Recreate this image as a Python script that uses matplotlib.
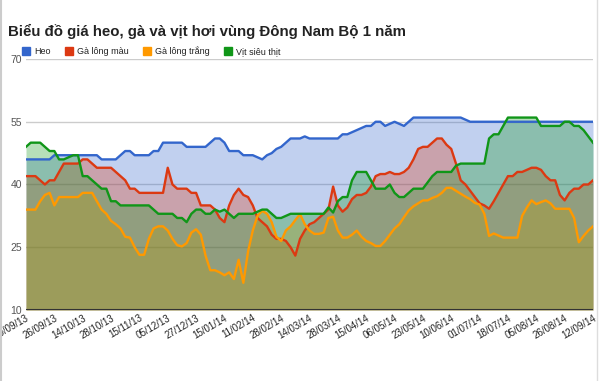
import numpy as np
import matplotlib
matplotlib.use("Agg")
import matplotlib.pyplot as plt
from matplotlib.patches import Patch
from matplotlib.lines import Line2D

plt.rcParams["font.family"] = ["Liberation Sans", "DejaVu Sans"]

# giá heo hơi (nghìn đồng/kg)
heo = [46, 46, 46, 46, 46, 46, 47, 47, 47, 47, 47, 47, 47, 47, 47, 47, 46, 46, 46, 46,
       47, 48, 48, 47, 47, 47, 47, 48, 48, 50, 50, 50, 50, 50, 49, 49, 49, 49, 49, 50,
       51, 51, 50, 48, 48, 48, 47, 47, 47, 46.5, 46, 47, 47.5, 48.5, 49, 50, 51, 51, 51, 51.5,
       51, 51, 51, 51, 51, 51, 51, 52, 52, 52.5, 53, 53.5, 54, 54, 55, 55, 54, 54.5, 55, 54.5,
       54, 55, 56, 56, 56, 56, 56, 56, 56, 56, 56, 56, 56, 55.5, 55, 55, 55, 55, 55, 55,
       55, 55, 55, 55, 55, 55, 55, 55, 55, 55, 55, 55, 55, 55, 55, 55, 55, 55, 55, 55, 55]

ga_mau = [42, 42, 42, 41, 40, 41, 41, 43, 45, 45, 45, 45, 46, 46, 45, 44, 44, 44, 44, 43,
          42, 41, 39, 39, 38, 38, 38, 38, 38, 38, 44, 40, 39, 39, 39, 38, 38, 35, 35, 35,
          34, 32, 31, 35, 37.5, 39, 37.5, 37, 35, 32, 31, 30, 28, 27, 27, 26.5, 25, 23, 27, 29,
          30.5, 31, 32, 33, 34, 39.5, 35, 33.5, 34.5, 36.5, 37.5, 37.5, 38, 39.5, 42, 42.5, 42.5, 43, 42.5, 42.5,
          43, 44, 46, 48.5, 49, 49, 50, 51, 51, 49.5, 48.5, 45, 41, 40, 38.5, 37, 35.5, 35, 34.2, 36,
          38, 40, 42, 42, 43, 43, 43.5, 44, 44, 43.5, 42, 41, 41, 37.5, 36.2, 38, 39, 39, 40, 40, 41]

ga_trang = [34, 34, 34, 36, 37.5, 38, 35, 37, 37, 37, 37, 37, 38, 38, 38, 36, 34, 33, 31.3, 30.5,
            29.5, 27.5, 27.3, 25, 23.2, 23.2, 27, 29.5, 30, 30, 29, 27, 25.5, 25.2, 26, 28.5, 29.3, 28, 23, 19.5,
            19.5, 19, 18.3, 19, 17.4, 22, 16.5, 24, 29, 32.5, 33.7, 33, 31, 27.5, 26.5, 29, 30, 31.5, 32.9, 30.5,
            29, 28.2, 28.2, 28.5, 32, 32.3, 29, 27.3, 27.3, 28, 29, 27.5, 26.5, 26, 25.3, 25.3, 26.5, 28, 29.5, 30.5,
            32.2, 33.8, 34.8, 35.5, 36.2, 36.2, 36.8, 37.2, 38, 39.2, 39.2, 38.5, 37.8, 37.1, 36.5, 35.6, 35.2, 33, 27.7, 28.3,
            27.8, 27.3, 27.3, 27.3, 27.3, 32.5, 34.5, 36.2, 35.3, 35.8, 36.2, 35.5, 34.2, 34.2, 34.2, 34.2, 32, 26.2, 27.7, 29, 30]

vit = [49, 50, 50, 50, 49, 48, 48, 46, 46, 46.5, 47, 47, 42, 42, 41, 40, 39, 39, 36, 36,
       35, 35, 35, 35, 35, 35, 35, 34, 33, 33, 33, 33, 32, 32, 31, 33, 34, 34, 33, 33,
       34, 33.5, 34, 33, 32, 33, 33, 33, 33, 33.5, 34, 34, 33, 32, 32, 32.5, 33, 33, 33, 33,
       33, 33, 33, 33, 34.5, 33.3, 36, 37, 37, 41, 43, 43, 43, 41, 39, 39, 39, 40, 38, 37,
       37, 38, 39, 39, 39, 40.5, 42, 43, 43, 43, 43, 44.5, 45, 45, 45, 45, 45, 45, 51, 52,
       52, 54, 56, 56, 56, 56, 56, 56, 56, 54, 54, 54, 54, 54, 55, 55, 54, 54, 53, 51.5, 50]

tick_labels = ["09/09/13", "26/09/13", "14/10/13", "28/10/13", "15/11/13", "05/12/13",
               "27/12/13", "15/01/14", "11/02/14", "28/02/14", "14/03/14", "28/03/14",
               "15/04/14", "06/05/14", "23/05/14", "10/06/14", "01/07/14", "18/07/14",
               "05/08/14", "26/08/14", "12/09/14"]

series = [("Heo", heo, "#3366CC"),
          ("Gà lông màu", ga_mau, "#DC3912"),
          ("Gà lông trắng", ga_trang, "#FF9900"),
          ("Vịt siêu thịt", vit, "#109618")]

x = np.arange(len(heo))

fig = plt.figure(figsize=(6.0, 3.81), dpi=100)
ax = fig.add_axes([26 / 600, 1 - 310 / 381, 567 / 600, 251 / 381])

for name, vals, col in series:
    ax.fill_between(x, 10, vals, color=col, alpha=0.3, linewidth=0)
for name, vals, col in series:
    ax.plot(x, vals, color=col, lw=1.7, solid_joinstyle="round")

ax.set_xlim(0, len(heo) - 1)
ax.set_ylim(10, 70)
ax.set_yticks([10, 25, 40, 55, 70])
for yv in [25, 40, 55, 70]:
    ax.axhline(yv, color="#cccccc", lw=1, zorder=0.5)
ax.axhline(10, color="#333333", lw=1.5, zorder=5)
for s in ax.spines.values():
    s.set_visible(False)
ax.tick_params(axis="y", length=0, labelsize=7.5, labelcolor="#555555", pad=3)
ax.tick_params(axis="x", length=0, labelsize=7, labelcolor="#222222", pad=2)
ax.set_xticks(np.arange(0, len(heo), 6))
ax.set_xticklabels(tick_labels, rotation=30, ha="right", rotation_mode="anchor")

fig.text(8 / 600, 1 - 31 / 381, "Biểu đồ giá heo, gà và vịt hơi vùng Đông Nam Bộ 1 năm",
         fontsize=10.8, fontweight="bold", color="#222222", va="center")

handles = [Patch(facecolor=c, edgecolor=c, label=n) for n, v, c in series]
fig.legend(handles=handles, loc="center left", bbox_to_anchor=(22 / 600, 1 - 51 / 381),
           ncol=4, frameon=False, fontsize=6.5, handlelength=0.9, handleheight=0.9,
           handletextpad=0.5, columnspacing=1.5, borderaxespad=0, borderpad=0,
           labelcolor="#222222")

# light frame lines at the image edges
fig.add_artist(Line2D([1 / 600, 1 / 600], [0, 1], color="#cccccc", lw=1.5))
fig.add_artist(Line2D([597 / 600, 597 / 600], [0, 1], color="#dddddd", lw=1))

fig.savefig("out.png", dpi=100)
